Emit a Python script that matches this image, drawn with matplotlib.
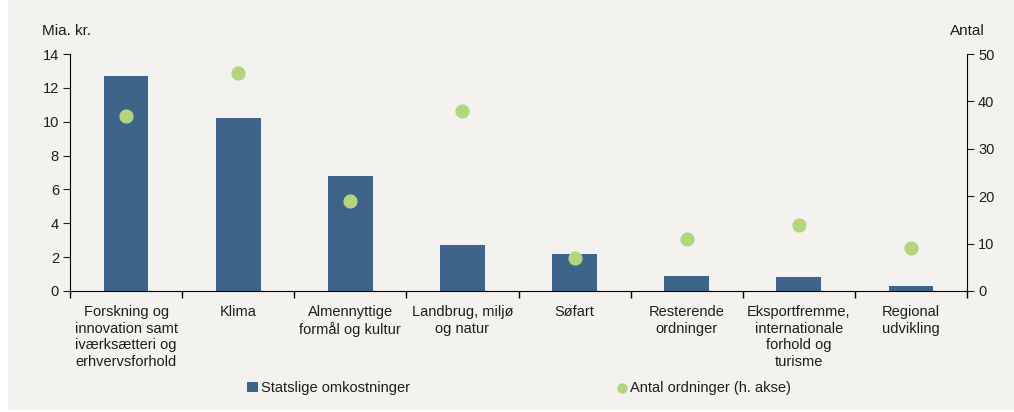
import matplotlib.pyplot as plt
import numpy as np
from matplotlib.patches import Rectangle

plt.rcParams['font.family'] = ['Liberation Sans', 'DejaVu Sans']

categories = [
    "Forskning og\ninnovation samt\niværksætteri og\nerhvervsforhold",
    "Klima",
    "Almennyttige\nformål og kultur",
    "Landbrug, miljø\nog natur",
    "Søfart",
    "Resterende\nordninger",
    "Eksportfremme,\ninternationale\nforhold og\nturisme",
    "Regional\nudvikling",
]
costs = [12.7, 10.2, 6.8, 2.7, 2.2, 0.9, 0.8, 0.3]
counts = [37, 46, 19, 38, 7, 11, 14, 9]
left_ticks = [0, 2, 4, 6, 8, 10, 12, 14]
right_ticks = [0, 10, 20, 30, 40, 50]

bar_color = "#3e6489"
dot_color = "#b5d47f"
bg = "#f3f2ee"
txt = "#1e1e1e"
fs = 10.5

fig = plt.figure(figsize=(10.14, 4.12), dpi=100, facecolor="white")
fig.patches.append(Rectangle((8 / 1014, 2 / 412), 1 - 8 / 1014, 1 - 2 / 412,
                             transform=fig.transFigure, facecolor=bg,
                             edgecolor="none", zorder=-10))

ax = fig.add_axes([70 / 1014, 1 - 291 / 412, (967 - 70) / 1014, (291 - 54) / 412])
ax.patch.set_alpha(0)
x = np.arange(len(categories))
bars = ax.bar(x, costs, width=0.4, color=bar_color, zorder=2,
              label="Statslige omkostninger")
ax.set_ylim(0, 14)
ax.set_xlim(-0.5, len(categories) - 0.5)
ax.set_yticks(left_ticks)
ax.set_xticks(x)
ax.set_xticklabels(categories, fontsize=fs, color=txt, linespacing=1.25, va="top")
ax.set_xticks(np.arange(-0.5, len(categories)), minor=True)
ax.tick_params(axis="x", which="major", length=0, pad=10)
ax.tick_params(axis="x", which="minor", length=5, direction="out", width=1)
ax.tick_params(axis="y", length=5, direction="out", labelsize=fs, colors=txt, pad=3)
for s in ["top", "right"]:
    ax.spines[s].set_visible(False)
ax.spines["left"].set_color("#000000")
ax.spines["bottom"].set_color("#000000")

ax2 = ax.twinx()
ax2.patch.set_alpha(0)
dots = ax2.scatter(x, counts, s=85, color=dot_color, zorder=3,
                   label="Antal ordninger (h. akse)")
ax2.set_ylim(0, 50)
ax2.set_yticks(right_ticks)
ax2.tick_params(axis="y", length=5, direction="out", labelsize=fs, colors=txt, pad=3)
for s in ["top", "left", "bottom"]:
    ax2.spines[s].set_visible(False)
ax2.spines["right"].set_color("#000000")

fig.text(42 / 1014, 1 - 31 / 412, "Mia. kr.", fontsize=11, color=txt, va="center")
fig.text(985 / 1014, 1 - 31 / 412, "Antal", fontsize=11, color=txt, va="center", ha="right")

fig.legend([bars, dots], ["Statslige omkostninger", "Antal ordninger (h. akse)"],
           loc="center", bbox_to_anchor=(519 / 1014, 1 - 388 / 412), ncol=2,
           frameon=False, fontsize=fs, handlelength=0.7, handletextpad=0.2,
           columnspacing=14.2, labelcolor=txt, markerscale=0.7)

fig.savefig("out.png", dpi=100, facecolor="white")
